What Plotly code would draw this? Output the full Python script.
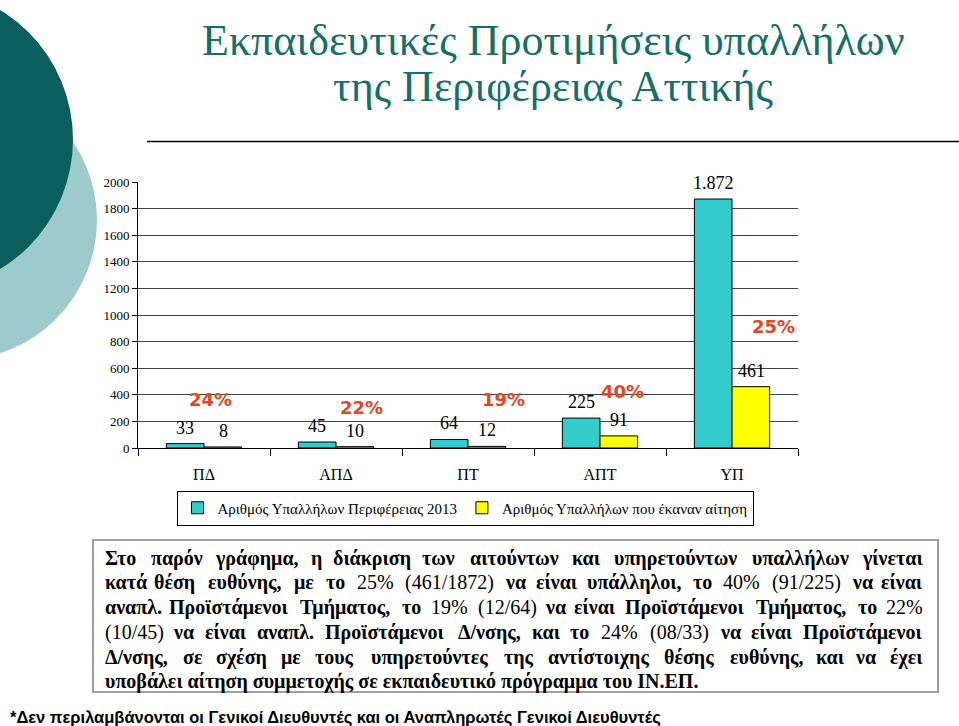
import re
import plotly.graph_objects as go

# ---------------- data ----------------
categories = ["ΠΔ", "ΑΠΔ", "ΠΤ", "ΑΠΤ", "ΥΠ"]
staff_2013 = [33, 45, 64, 225, 1872]
applicants = [8, 10, 12, 91, 461]
series_names = ["Αριθμός Υπαλλήλων Περιφέρειας 2013", "Αριθμός Υπαλλήλων που έκαναν αίτηση"]
y_ticks = [0, 200, 400, 600, 800, 1000, 1200, 1400, 1600, 1800, 2000]

title_lines = ["Εκπαιδευτικές Προτιμήσεις υπαλλήλων", "της Περιφέρειας Αττικής"]
body_lines = [
    "Στο παρόν γράφημα, η διάκριση των αιτούντων και υπηρετούντων υπαλλήλων γίνεται",
    "κατά θέση ευθύνης, με το 25% (461/1872) να είναι υπάλληλοι, το 40% (91/225) να είναι",
    "αναπλ. Προϊστάμενοι Τμήματος, το 19% (12/64) να είναι Προϊστάμενοι Τμήματος, το 22%",
    "(10/45) να είναι αναπλ. Προϊστάμενοι Δ/νσης, και το 24% (08/33) να είναι Προϊστάμενοι",
    "Δ/νσης,  σε σχέση με τους υπηρετούντες της αντίστοιχης θέσης ευθύνης, και να έχει",
    "υποβάλει αίτηση συμμετοχής σε εκπαιδευτικό πρόγραμμα του ΙΝ.ΕΠ.",
]
footnote = "*Δεν περιλαμβάνονται οι Γενικοί Διευθυντές και οι Αναπληρωτές Γενικοί Διευθυντές"

# ---------------- layout helpers (pixel -> paper) ----------------
W, H = 959, 726
L, R, T, B = 138, 798, 182, 448


def px(x):
    return (x - L) / (R - L)


def py(y):
    return (B - y) / (B - T)


SERIF = "Liberation Serif"
SANS = "Liberation Sans"
TEAL = "#33CCCC"
YELLOW = "#FFFF00"
RED = "#E5461F"
TITLE_C = "#15706A"

fig = go.Figure()
fig.add_trace(go.Bar(x=categories, y=staff_2013, name=series_names[0],
                     marker=dict(color=TEAL, line=dict(color="#000000", width=1))))
fig.add_trace(go.Bar(x=categories, y=applicants, name=series_names[1],
                     marker=dict(color=YELLOW, line=dict(color="#000000", width=1))))

ann = []


def fmt(v):
    return f"{v:,}".replace(",", ".")


# value labels
for c, v in zip(categories, staff_2013):
    ann.append(dict(x=c, y=v, xref="x", yref="y", xshift=-19, yshift=4, yanchor="bottom",
                    text=fmt(v), showarrow=False, font=dict(family=SERIF, size=18, color="#000")))
for c, v in zip(categories, applicants):
    ann.append(dict(x=c, y=v, xref="x", yref="y", xshift=19, yshift=4, yanchor="bottom",
                    text=fmt(v), showarrow=False, font=dict(family=SERIF, size=18, color="#000")))

# percentage labels (position offsets kept separately)
pct_pos = [(6, 368), (25, 308), (35, 368), (22, 428), (41, 910)]
for c, a, s, (dx, yy) in zip(categories, applicants, staff_2013, pct_pos):
    ann.append(dict(x=c, y=yy, xref="x", yref="y", xshift=dx, yanchor="middle",
                    text=f"<b>{round(a / s * 100)}%</b>", showarrow=False,
                    font=dict(family="DejaVu Sans", size=18, color=RED)))

# title
for line, yy in zip(title_lines, [40, 87]):
    ann.append(dict(x=px(553), y=py(yy), xref="paper", yref="paper", xanchor="center",
                    yanchor="middle", text=line, showarrow=False,
                    font=dict(family=SERIF, size=44, color=TITLE_C)))


# justified body text (word placement)
def cw(ch):
    if ch in "ιίϊΐ":
        return 0.3
    if ch in ".,:;":
        return 0.27
    if ch in "()/":
        return 0.35
    if ch == "%":
        return 1.0
    if ch.isdigit():
        return 0.5
    if ch in "ωμφψ":
        return 0.62
    if ch.isupper():
        return 0.72
    return 0.52


def styled(w):
    return w if re.search(r"[0-9%]", w) else f"<b>{w}</b>"


FS = 20
X0, X1 = 103, 925
line_y = [558, 582, 607, 632, 657, 681]
for li, (line, yy) in enumerate(zip(body_lines, line_y)):
    words = line.split()
    if li == len(body_lines) - 1:
        ann.append(dict(x=px(X0), y=py(yy), xref="paper", yref="paper",
                        xanchor="left", yanchor="middle",
                        text=" ".join(styled(w) for w in words), showarrow=False,
                        font=dict(family=SERIF, size=FS, color="#000")))
        continue
    widths = [sum(cw(ch) for ch in w) * FS for w in words]
    gap = (X1 - X0 - sum(widths)) / (len(words) - 1)
    x = X0
    for i, (w, wd) in enumerate(zip(words, widths)):
        if i == 0:
            xa, xp = "left", x
        elif i == len(words) - 1:
            xa, xp = "right", X1
        else:
            xa, xp = "center", x + wd / 2
        ann.append(dict(x=px(xp), y=py(yy), xref="paper", yref="paper",
                        xanchor=xa, yanchor="middle", text=styled(w), showarrow=False,
                        font=dict(family=SERIF, size=FS, color="#000")))
        x += wd + gap

# footnote
ann.append(dict(x=px(8), y=py(717), xref="paper", yref="paper", xanchor="left",
                yanchor="middle", text=f"<b>{footnote}</b>", showarrow=False,
                font=dict(family=SANS, size=16.5, color="#000")))

shapes = [
    dict(type="circle", xref="paper", yref="paper", x0=px(-183), x1=px(97), y0=py(80), y1=py(360),
         fillcolor="#9DCBCD", line=dict(width=0), layer="below"),
    dict(type="circle", xref="paper", yref="paper", x0=px(-230), x1=px(73), y0=py(-12), y1=py(291),
         fillcolor="#0B5E5E", line=dict(width=0), layer="below"),
    dict(type="line", xref="paper", yref="paper", x0=px(147), x1=px(960), y0=py(141.5), y1=py(141.5),
         line=dict(color="#000", width=1.5)),
    dict(type="rect", xref="paper", yref="paper", x0=px(93), x1=px(938), y0=py(540), y1=py(692),
         line=dict(color="#A0A0A0", width=2), fillcolor="rgba(0,0,0,0)"),
]

fig.update_layout(
    width=W, height=H,
    margin=dict(l=L, r=W - R, t=T, b=H - B),
    paper_bgcolor="white", plot_bgcolor="white",
    barmode="group", bargap=0.43, bargroupgap=0,
    showlegend=True,
    legend=dict(orientation="h", x=px(465), y=py(508), xanchor="center", yanchor="middle",
                bordercolor="#000", borderwidth=1, bgcolor="white",
                font=dict(family=SERIF, size=15, color="#000"), itemwidth=30,
                traceorder="normal", tracegroupgap=0),
    annotations=ann,
    shapes=shapes,
    xaxis=dict(showline=True, linecolor="#000", linewidth=1, ticks="outside", ticklen=7,
               tickcolor="#000", tickson="boundaries", showgrid=False,
               tickfont=dict(family=SERIF, size=16, color="#000"), ticklabelstandoff=12),
    yaxis=dict(range=[0, 2000], tickvals=y_ticks, showline=True, linecolor="#000", linewidth=1,
               ticks="outside", ticklen=5, tickcolor="#000", showgrid=True, gridcolor="#404040",
               gridwidth=1, zeroline=False,
               tickfont=dict(family=SERIF, size=13, color="#000")),
)

fig.write_html("out.html")
